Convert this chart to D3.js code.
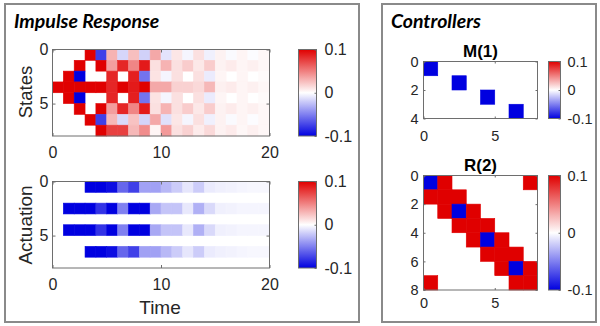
<!DOCTYPE html>
<html><head><meta charset="utf-8">
<script src="https://cdn.jsdelivr.net/npm/d3@7"></script>
<style>body{margin:0;background:#fff}svg{display:block}</style>
</head><body>
<svg id="c" width="600" height="326"></svg>
<script>
// ---------- data ----------
const timeTicks = [0, 10, 20];
const stateTicks = [0, 5];
const actuationTicks = [0, 5];
const colorbarTicks = [-0.1, 0, 0.1];
const mTicksX = [0, 5];
const mTicksY = [0, 2, 4];
const rTicksX = [0, 5];
const rTicksY = [0, 2, 4, 6, 8];

// state impulse response (8 states x 20 time steps)
const stateRow0 = [0,0,0,0.12,-0.075,0.03,-0.016,0.025,-0.018,0.034,-0.011,0.01,-0.004,0.012,-0.006,0.005,-0.002,0.004,-0.001,0.003];
const stateRow1 = [0,0,0.12,0,0.12,0.038,0.085,0.048,0.09,0.012,0.03,0.012,0.02,0.009,0.02,0.005,0.008,0.004,0.006,0.003];
const stateRow2 = [0,0.12,-0.12,0,0,0.085,0,0.088,-0.055,0.011,-0.004,0.012,0,0.012,-0.008,0.004,0,0.004,0,0.002];
const stateRow3 = [0.12,0.12,0.12,0.12,0.12,0.085,0.12,0.09,0.12,0.034,0.034,0.018,0.018,0.015,0.028,0.006,0.008,0.004,0.006,0.003];
const stateRow4 = [0,0.12,-0.12,0,0,0.085,0,0.088,-0.055,0.011,-0.004,0.012,0,0.012,-0.008,0.004,0,0.004,0,0.002];
const stateRow5 = [0,0,0.12,0,0.12,0.038,0.085,0.048,0.09,0.012,0.03,0.012,0.02,0.009,0.02,0.005,0.008,0.004,0.006,0.003];
const stateRow6 = [0,0,0,0.12,-0.075,0.028,-0.015,0.024,-0.017,0.034,-0.012,0.01,-0.004,0.012,-0.006,0.005,-0.002,0.004,-0.001,0.003];
const stateRow7 = [0,0,0,0,0.12,0.075,0.075,0.028,0.045,0.004,0.04,0.012,0.018,0.008,0.015,0.005,0.008,0.003,0.006,0.003];
const states = [stateRow0,stateRow1,stateRow2,stateRow3,stateRow4,stateRow5,stateRow6,stateRow7];

// actuation (8 rows x 20 time steps)
const actRow0 = [0,0,0,-0.12,-0.12,-0.095,-0.06,-0.075,-0.037,-0.037,-0.028,-0.02,-0.01,-0.02,-0.008,-0.006,-0.005,-0.004,-0.003,-0.003];
const actRow1 = [0,0,0,0,0,0,0,0,0,0,0,0,0,0,0,0,0,0,0,0];
const actRow2 = [0,-0.12,-0.12,-0.12,-0.08,-0.12,-0.05,-0.12,-0.12,-0.034,-0.023,-0.023,-0.009,-0.031,-0.015,-0.006,-0.005,-0.004,-0.004,-0.004];
const actRow3 = [0,0,0,0,0,0,0,0,0,0,0,0,0,0,0,0,0,0,0,0];
const actRow4 = [0,-0.12,-0.12,-0.12,-0.08,-0.12,-0.05,-0.12,-0.12,-0.034,-0.023,-0.023,-0.009,-0.031,-0.015,-0.006,-0.005,-0.004,-0.004,-0.004];
const actRow5 = [0,0,0,0,0,0,0,0,0,0,0,0,0,0,0,0,0,0,0,0];
const actRow6 = [0,0,0,-0.12,-0.12,-0.095,-0.06,-0.075,-0.037,-0.037,-0.028,-0.02,-0.01,-0.02,-0.008,-0.006,-0.005,-0.004,-0.003,-0.003];
const actRow7 = [0,0,0,0,0,0,0,0,0,0,0,0,0,0,0,0,0,0,0,0];
const actuation = [actRow0,actRow1,actRow2,actRow3,actRow4,actRow5,actRow6,actRow7];

// controller M(1): 4 x 8
const M1 = [
  [-0.12,0,0,0,0,0,0,0],
  [0,0,-0.12,0,0,0,0,0],
  [0,0,0,0,-0.12,0,0,0],
  [0,0,0,0,0,0,-0.12,0]
];
// controller R(2): 8 x 8
const R2 = [
  [-0.12,0.12,0,0,0,0,0,0.12],
  [0.12,0.12,0.12,0,0,0,0,0],
  [0,0.12,-0.12,0.12,0,0,0,0],
  [0,0,0.12,0.12,0.12,0,0,0],
  [0,0,0,0.12,-0.12,0.12,0,0],
  [0,0,0,0,0.12,0.12,0.12,0],
  [0,0,0,0,0,0.12,-0.12,0.12],
  [0.12,0,0,0,0,0,0.12,0.12]
];

// ---------- drawing ----------
const svg = d3.select('#c');
const TXT = '#262626', AX = '#6e6e6e';
const color = d3.scaleLinear().domain([-0.1,0,0.1]).range(['#0000e0','#ffffff','#e00000']).clamp(true);
const defs = svg.append('defs');

// panel frames
svg.append('rect').attr('x',5).attr('y',4).attr('width',354).attr('height',318)
  .attr('fill','none').attr('stroke','#8a8a8a').attr('stroke-width',2);
svg.append('rect').attr('x',382).attr('y',4).attr('width',214).attr('height',318)
  .attr('fill','none').attr('stroke','#8a8a8a').attr('stroke-width',2);

const titleFont = 'Lato, "Open Sans", sans-serif';
svg.append('text').attr('x',14).attr('y',28).text('Impulse Response')
  .style('font-family',titleFont).attr('font-weight','bold').attr('font-style','italic')
  .attr('font-size',19.5).attr('fill','#000');
svg.append('text').attr('x',391).attr('y',28).text('Controllers')
  .style('font-family',titleFont).attr('font-weight','bold').attr('font-style','italic')
  .attr('font-size',19.5).attr('fill','#000');

const FONT = '"Liberation Sans", Arial, sans-serif';

function styleAxis(g, fs){
  g.select('.domain').remove();
  g.attr('font-family',null).attr('font-size',null);
  g.selectAll('line').attr('stroke',AX);
  g.selectAll('text').attr('fill',TXT).style('font-family',FONT).style('font-size',fs+'px');
}

function heatmap(m, box, xMax, yMax, xTicks, yTicks, o){
  const x = d3.scaleLinear().domain([0,xMax]).range([box.x0,box.x1]);
  const y = d3.scaleLinear().domain([0,yMax]).range([box.y0,box.y1]);
  const g = svg.append('g');
  m.forEach((row,i)=>row.forEach((v,j)=>{
    if (v === 0) return;
    g.append('rect').attr('x',x(j)).attr('y',y(i))
      .attr('width',x(j+1)-x(j)).attr('height',y(i+1)-y(i))
      .attr('fill',color(v)).attr('stroke',color(v)).attr('stroke-width',0.6);
  }));
  g.append('rect').attr('x',box.x0).attr('y',box.y0)
    .attr('width',box.x1-box.x0).attr('height',box.y1-box.y0)
    .attr('fill','none').attr('stroke',AX).attr('stroke-width',1);
  const t = o.tick, fmt = d3.format('d');
  const ax = g.append('g').attr('transform',`translate(0,${box.y1})`)
    .call(d3.axisBottom(x).tickValues(xTicks).tickFormat(fmt).tickSizeInner(-t).tickSizeOuter(0).tickPadding(o.xPad));
  styleAxis(ax, o.fs);
  const axT = g.append('g').attr('transform',`translate(0,${box.y0})`)
    .call(d3.axisTop(x).tickValues(xTicks).tickSizeInner(-t).tickSizeOuter(0).tickFormat(''));
  styleAxis(axT, o.fs);
  const ay = g.append('g').attr('transform',`translate(${box.x0},0)`)
    .call(d3.axisLeft(y).tickValues(yTicks).tickFormat(fmt).tickSizeInner(-t).tickSizeOuter(0).tickPadding(o.yPad));
  styleAxis(ay, o.fs);
  const ayR = g.append('g').attr('transform',`translate(${box.x1},0)`)
    .call(d3.axisRight(y).tickValues(yTicks).tickSizeInner(-t).tickSizeOuter(0).tickFormat(''));
  styleAxis(ayR, o.fs);
  if (o.title) {
    g.append('text').attr('x',(box.x0+box.x1)/2).attr('y',o.titleY).attr('text-anchor','middle')
      .style('font-family',FONT).attr('font-weight','bold').attr('font-size',o.titleFs)
      .attr('fill','#000').text(o.title);
  }
  return {x,y};
}

let gradId = 0;
function colorbar(box, fs, pad){
  const id = 'grad' + (gradId++);
  const grad = defs.append('linearGradient').attr('id',id)
    .attr('x1',0).attr('y1',1).attr('x2',0).attr('y2',0);
  d3.range(0,1.0001,0.05).forEach(t=>{
    grad.append('stop').attr('offset',t).attr('stop-color',color(-0.1+0.2*t));
  });
  svg.append('rect').attr('x',box.x0).attr('y',box.y0)
    .attr('width',box.x1-box.x0).attr('height',box.y1-box.y0)
    .attr('fill',`url(#${id})`).attr('stroke',AX).attr('stroke-width',1);
  const s = d3.scaleLinear().domain([-0.1,0.1]).range([box.y1,box.y0]);
  const a = svg.append('g').attr('transform',`translate(${box.x1},0)`)
    .call(d3.axisRight(s).tickValues(colorbarTicks).tickSizeInner(-2).tickSizeOuter(0)
      .tickPadding(pad).tickFormat(d=> d===0 ? '0' : d3.format('.1f')(d).replace('\u2212','-')));
  styleAxis(a, fs);
}

// Impulse response: states
heatmap(states, {x0:52.5,x1:269.5,y0:49.5,y1:136}, 20, 8, timeTicks, stateTicks,
  {tick:3, xPad:11, yPad:4, fs:16});
colorbar({x0:298.5,x1:316.5,y0:49.5,y1:136}, 16, 8);

// actuation
heatmap(actuation, {x0:52.5,x1:269.5,y0:181.5,y1:268}, 20, 8, timeTicks, actuationTicks,
  {tick:3, xPad:11, yPad:4, fs:16});
colorbar({x0:298.5,x1:316.5,y0:181.5,y1:268}, 16, 8);

// axis labels
svg.append('text').attr('transform','translate(32,92) rotate(-90)').attr('text-anchor','middle')
  .style('font-family',FONT).attr('font-size',18.5).attr('fill',TXT).text('States');
svg.append('text').attr('transform','translate(32,225) rotate(-90)').attr('text-anchor','middle')
  .style('font-family',FONT).attr('font-size',19).attr('fill',TXT).text('Actuation');
svg.append('text').attr('x',160).attr('y',314).attr('text-anchor','middle')
  .style('font-family',FONT).attr('font-size',19).attr('fill',TXT).text('Time');

// controllers
heatmap(M1, {x0:423.5,x1:537.5,y0:61.5,y1:118.5}, 8, 4, mTicksX, mTicksY,
  {tick:2, xPad:12, yPad:5, fs:14.5, title:'M(1)', titleY:57, titleFs:17});
colorbar({x0:548.5,x1:560.5,y0:61.5,y1:118.5}, 14.5, 7);

heatmap(R2, {x0:423.5,x1:537.5,y0:175.5,y1:290}, 8, 8, rTicksX, rTicksY,
  {tick:2, xPad:8, yPad:5, fs:14.5, title:'R(2)', titleY:171, titleFs:17});
colorbar({x0:548.5,x1:560.5,y0:175.5,y1:290}, 14.5, 7);
</script>
</body></html>
